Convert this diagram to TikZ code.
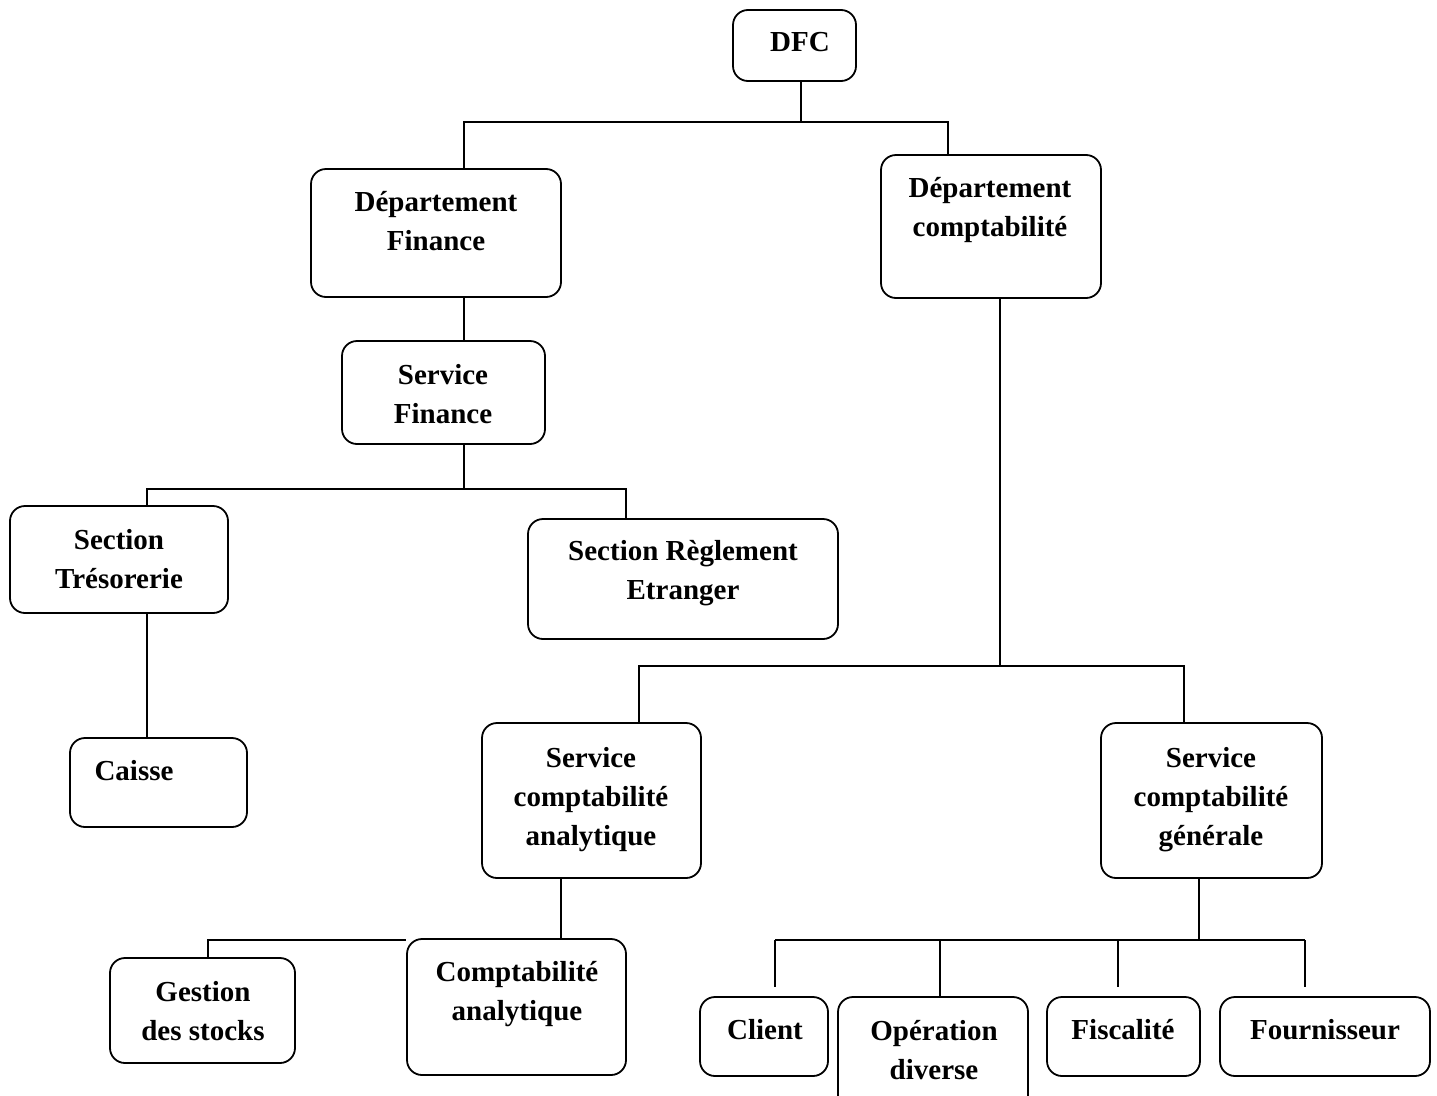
\documentclass[tikz,border=0pt]{standalone}
\usepackage{fontspec}
\setmainfont{Liberation Serif}
\usetikzlibrary{fit}
\tikzset{
  orgbox/.style={draw, line width=1.8pt, rounded corners=15pt, inner sep=0pt},
  orgtext/.style={font=\bfseries\fontsize{29}{39}\selectfont, align=center, inner sep=0pt},
  link/.style={line width=1.8pt}
}
% \obox{name}{x1}{y1}{x2}{y2}{text x}{text y}{text}
\newcommand{\obox}[8]{%
  \node[orgbox, fit={(#2,#3) (#4,#5)}] (#1) {};
  \node[orgtext] (#1-t) at (#6,#7) {#8};
}
\begin{document}
\begin{tikzpicture}[x=1pt, y=-1pt]
\useasboundingbox (0,0) rectangle (1437,1095);

% boxes
\obox{dfc}{733}{10}{856}{81}{800}{42}{DFC}
\obox{dfin}{311}{169}{561}{297}{436}{221}{Département\\Finance}
\obox{dcpt}{881}{155}{1101}{298}{990}{210}{Département\\comptabilité}
\obox{sfin}{342}{341}{545}{444}{443}{394}{Service\\Finance}
\obox{stre}{10}{506}{228}{613}{119}{559}{Section\\Trésorerie}
\obox{sreg}{528}{519}{838}{639}{683}{573}{Section Règlement\\Etranger}
\obox{caisse}{70}{738}{247}{827}{134}{771}{Caisse}
\obox{sca}{482}{723}{701}{878}{591}{800}{Service\\comptabilité\\analytique}
\obox{scg}{1101}{723}{1322}{878}{1211}{800}{Service\\comptabilité\\générale}
\obox{gest}{110}{958}{295}{1063}{203}{1011}{Gestion\\des stocks}
\obox{cana}{407}{939}{626}{1075}{517}{994}{Comptabilité\\analytique}
\obox{client}{700}{997}{828}{1076}{765}{1030}{Client}
\obox{oper}{838}{997}{1028}{1110}{934}{1050}{Opération\\diverse}
\obox{fisc}{1047}{997}{1200}{1076}{1123}{1030}{Fiscalité}
\obox{four}{1220}{997}{1430}{1076}{1325}{1030}{Fournisseur}

% junction points of the connectors
\coordinate (b0) at (801,122);
\coordinate (b1) at (464,122);
\coordinate (b2) at (948,122);
\coordinate (b3) at (464,489);
\coordinate (b4) at (147,489);
\coordinate (b5) at (626,489);
\coordinate (c0) at (1000,666);
\coordinate (c1) at (639,666);
\coordinate (c2) at (1184,666);
\coordinate (d0) at (561,940);
\coordinate (d1) at (208,940);
\coordinate (e0) at (1199,940);
\coordinate (e1) at (775,940);
\coordinate (e2) at (940,940);
\coordinate (e3) at (1118,940);
\coordinate (e4) at (1305,940);

% connectors
\draw[link] (dfc.south -| b0) -- (b0);
\draw[link] (dfin.north -| b1) -- (b1) -- (b2) -- (dcpt.north -| b2);
\draw[link] (dfin.south -| b1) -- (sfin.north -| b1);
\draw[link] (sfin.south -| b3) -- (b3);
\draw[link] (stre.north -| b4) -- (b4) -- (b5) -- (sreg.north -| b5);
\draw[link] (stre.south -| b4) -- (caisse.north -| b4);
\draw[link] (dcpt.south -| c0) -- (c0);
\draw[link] (sca.north -| c1) -- (c1) -- (c2) -- (scg.north -| c2);
\draw[link] (sca.south -| d0) -- (cana.north -| d0);
\draw[link] (gest.north -| d1) -- (d1) -- (d1 -| cana.west);
\draw[link] (scg.south -| e0) -- (e0);
\draw[link] (e1) -- (e4);
\draw[link] (e1) -- ([yshift=9pt]client.north -| e1);
\draw[link] (e2) -- (oper.north -| e2);
\draw[link] (e3) -- ([yshift=9pt]fisc.north -| e3);
\draw[link] (e4) -- ([yshift=9pt]four.north -| e4);
\end{tikzpicture}
\end{document}
